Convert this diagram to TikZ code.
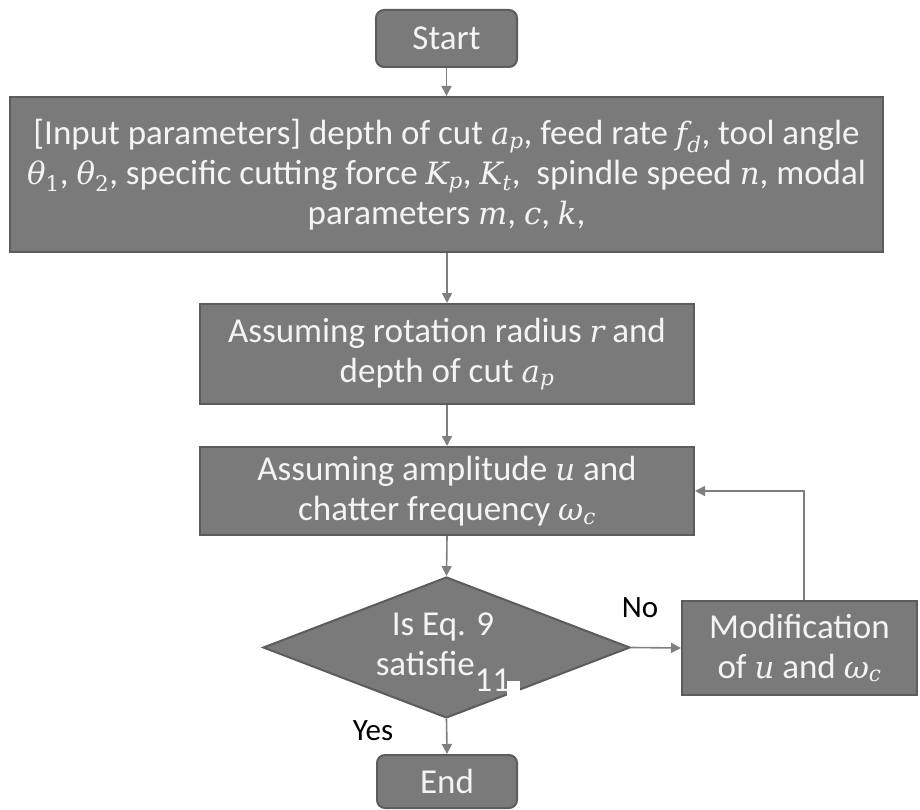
\documentclass[tikz,border=0pt]{standalone}
\usepackage{fontspec}
\setmainfont{Carlito}
\newfontfamily\mfont{DejaVu Serif}[Scale=0.88]
\newcommand{\mv}[1]{{\mfont\itshape #1}}
\newcommand{\mvs}[2]{{\mfont\itshape #1\textsubscript{#2}}}
\newcommand{\mvd}[2]{{\mfont\itshape #1\textsubscript{\upshape #2}}}
\usetikzlibrary{shapes.geometric,arrows.meta}
\definecolor{boxfill}{HTML}{7A7A7A}
\definecolor{boxline}{HTML}{5C5C5C}
\definecolor{arrowc}{HTML}{7F7F7F}
\definecolor{txtc}{HTML}{F4F4F4}
\begin{document}
\begin{tikzpicture}[x=1pt,y=-1pt,
  box/.style={draw=boxline, line width=2pt, fill=boxfill, text=txtc,
    font=\fontsize{35}{40}\selectfont, align=center, inner sep=0pt},
  term/.style={box, rounded corners=8pt},
  dia/.style={draw=boxline, line width=2pt, fill=boxfill, shape=diamond, inner sep=0pt},
  dtext/.style={text=txtc, font=\fontsize{35}{40}\selectfont, align=center, inner sep=0pt},
  lbl/.style={text=black, font=\fontsize{31}{34}\selectfont, inner sep=0pt},
  arr/.style={draw=arrowc, line width=1.6pt, -{Triangle[length=10pt,width=10pt]}}]
\useasboundingbox (0,0) rectangle (920,810);

\node[term, minimum width=141, minimum height=57] (start) at (446.5,38.5) {Start};
\node[box, minimum width=873, minimum height=155] (input) at (446.5,174.5)
  {[Input parameters] depth of cut \mvs{a}{p}, feed rate \mvs{f}{d}, tool angle\\
   \mvd{θ}{1}, \mvd{θ}{2}, specific cutting force \mvs{K}{p}, \mvs{K}{t},\ \ spindle speed \mv{n}, modal\\
   parameters \mv{m}, \mv{c}, \mv{k},};
\node[box, minimum width=494, minimum height=100] (rad) at (447,354)
  {Assuming rotation radius \mv{r} and\\ depth of cut \mvs{a}{p}};
\node[box, minimum width=494, minimum height=88] (amp) at (447,491)
  {Assuming amplitude \mv{u} and\\ chatter frequency \mvs{ω}{c}};
\node[dia, minimum width=367, minimum height=141] (dec) at (446.5,647.5) {};
\fill[white] (507,681) rectangle (520,697);
\node[dtext] (dectxt) at (443,652) {Is Eq. 9\\ satisfie\raisebox{-0.45em}{11}};
\node[box, minimum width=235, minimum height=94] (mod) at (799.5,648)
  {Modification\\ of \mv{u} and \mvs{ω}{c}};
\node[term, minimum width=140, minimum height=53] (end) at (447,781.5) {End};

\node[lbl] (no) at (640,608) {No};
\node[lbl] (yes) at (373,731) {Yes};

\draw[arr] (start.south) -- (start.south |- input.north);
\draw[arr] (rad.north |- input.south) -- (rad.north);
\draw[arr] (rad.south) -- (amp.north);
\draw[arr] (amp.south |- dec.north) ++(0,-40) -- (dec.north);
\draw[arr] (dec.east) -- (mod.west);
\draw[arr] ([xshift=4.5pt]mod.north) |- (amp.east);
\draw[arr] (dec.south) -- (end.north);
\end{tikzpicture}
\end{document}
